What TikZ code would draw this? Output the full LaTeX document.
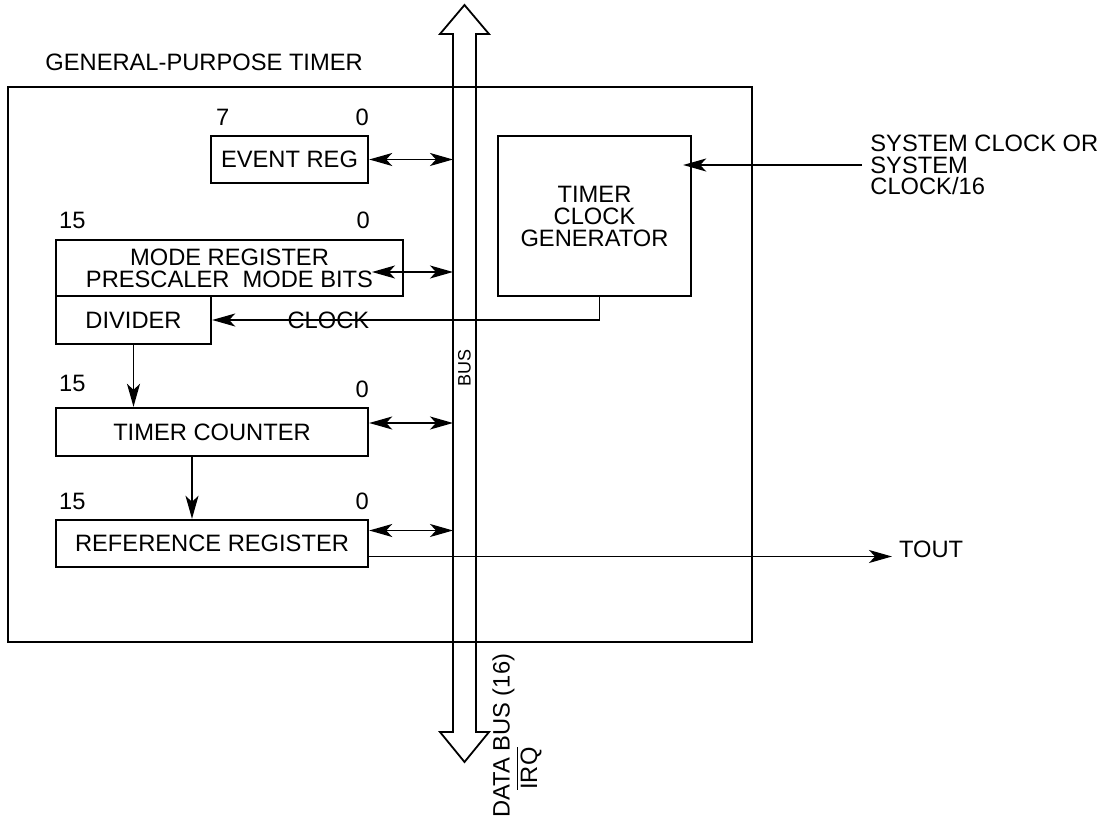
\documentclass[tikz,border=0pt]{standalone}
\usepackage{fontspec}
\setmainfont{Liberation Sans}
\usetikzlibrary{arrows.meta,calc}

\begin{document}
\begin{tikzpicture}[x=0.5pt, y=-0.5pt, >={Stealth[length=11.5pt, width=6.5pt, inset=3pt]}, font=\fontsize{11.85}{11}\selectfont]
		\tikzset{reg/.style={draw, line width=1.2pt, rectangle, inner sep=0pt, align=center},
			bitno/.style={inner sep=0pt, yshift=4.5pt},
			link/.style={line width=0.7pt}}
		\useasboundingbox (0,0) rectangle (1110,818);
		\draw[line width=0.9pt] (453,732) -- (453,34) -- (440,34) -- (464.5,5) -- (489,34) -- (476,34) -- (476,732) -- (489,732) -- (464.5,762) -- (440,732) -- cycle;
		\coordinate (busL) at (453,0);
		\node[rotate=90, font=\fontsize{9}{9}\selectfont] (buslbl) at (464.5,368) {BUS};
		\node[rotate=90, anchor=west, inner sep=0pt] (databus) at (503.5,818) {DATA BUS (16)};
		\node[rotate=90, anchor=west, inner sep=0pt] (irq) at (529,790) {$\overline{\hbox{IRQ}}$};
		\draw[line width=1pt] (7.5,87) rectangle (752,642);
		\node[anchor=west, inner sep=0pt] (title) at (45,62.5) {GENERAL-PURPOSE TIMER};
		\node[reg, minimum width=78.5pt, minimum height=23.5pt] (evreg) at (289.5,159.5) {EVENT REG};
		\node[reg, minimum width=173.5pt, minimum height=28pt] (modereg) at (229.5,268) {MODE REGISTER\\PRESCALER\ \ MODE BITS};
		\node[reg, minimum width=77.5pt, minimum height=24pt] (div) at (133.5,320) {DIVIDER};
		\node[reg, minimum width=156pt, minimum height=24pt] (tc) at (212,432) {TIMER COUNTER};
		\node[reg, minimum width=156pt, minimum height=23.5pt] (rr) at (212,543.5) {REFERENCE REGISTER};
		\node[reg, minimum width=96.5pt, minimum height=80pt] (gen) at (594.5,216) {TIMER\\CLOCK\\GENERATOR};
		\node[bitno, anchor=south west] (ev7) at ([xshift=3pt]evreg.north west) {7};
		\node[bitno, anchor=south east] (ev0) at (evreg.north east) {0};
		\node[bitno, anchor=south west, yshift=0.5pt] (mr15) at ([xshift=2pt]modereg.north west) {15};
		\node[bitno, anchor=south east, yshift=0.5pt] (mr0) at ([xshift=-17pt]modereg.north east) {0};
		\node[bitno, anchor=south west, yshift=3pt] (tc15) at ([xshift=2pt]tc.north west) {15};
		\node[bitno, anchor=south east] (tc0) at (tc.north east) {0};
		\node[bitno, anchor=south west] (rr15) at ([xshift=2pt]rr.north west) {15};
		\node[bitno, anchor=south east] (rr0) at (rr.north east) {0};
		\draw[link, <->] (evreg.east) -- (evreg.east -| busL);
		\coordinate (mbits) at (372,272);
		\draw[link, <->] (mbits) -- (mbits -| busL);
		\draw[link, <->] ([yshift=4.5pt]tc.east) -- ([yshift=4.5pt]tc.east -| busL);
		\draw[link, <->] ([yshift=6.5pt]rr.east) -- ([yshift=6.5pt]rr.east -| busL);
		\draw[link, ->] (div.south) -- (div.south |- tc.north);
		\draw[link, ->] ([xshift=-10pt]tc.south) -- ([xshift=-10pt]rr.north);
		\draw[link, ->] ([xshift=2.5pt]gen.south) |- (div.east) node[pos=0.85] (clk) {CLOCK};
		\coordinate (sysin) at (862,165);
		\draw[link, ->] (sysin) -- ([xshift=-4.5pt]sysin -| gen.east);
		\node[anchor=north west, inner sep=0pt, align=left, font=\fontsize{11.85}{10.6}\selectfont] (sysclk) at (870,135) {SYSTEM CLOCK OR\\SYSTEM\\CLOCK/16};
		\node[anchor=west] (tout) at (892,549) {TOUT};
		\draw[link, ->] ([yshift=-6.5pt]rr.east) -- ([yshift=-6.5pt]rr.east -| tout.west);
	\end{tikzpicture}
\end{document}
